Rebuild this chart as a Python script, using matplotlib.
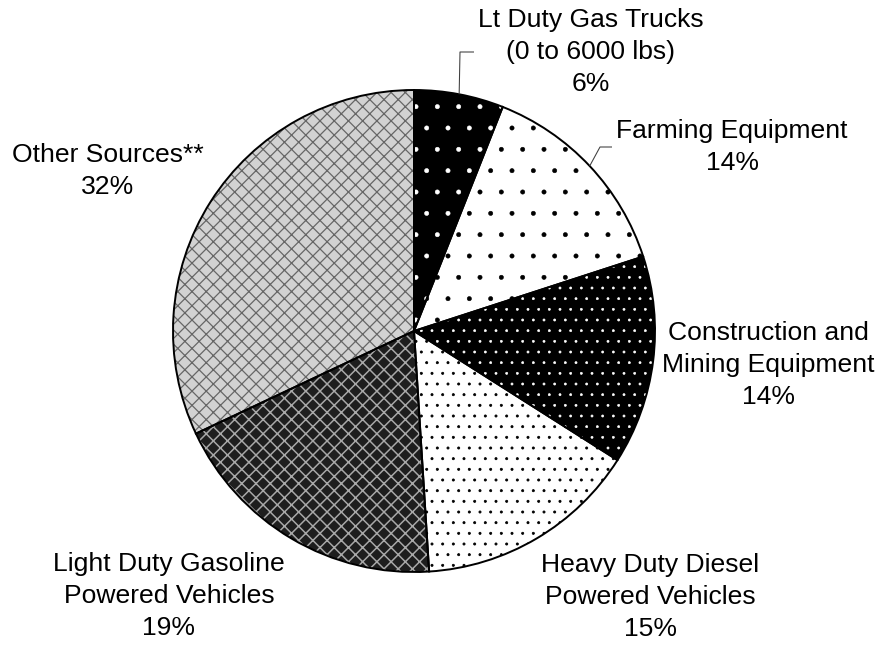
import numpy as np
import matplotlib
matplotlib.use("Agg")
import matplotlib.pyplot as plt

# ---- data ----
categories = [
    "Lt Duty Gas Trucks\n(0 to 6000 lbs)",
    "Farming Equipment",
    "Construction and\nMining Equipment",
    "Heavy Duty Diesel\nPowered Vehicles",
    "Light Duty Gasoline\nPowered Vehicles",
    "Other Sources**",
]
shares = [6, 14, 14, 15, 19, 32]

# ---- styles ----
face_colors = ["black", "white", "black", "white", "#1e1e1e", "#d2d2d2"]
hatch_colors = ["white", "black", "white", "black", "#a8a8a8", "#666666"]
hatches = [".", ".", "..", "..", "xxx", "xxx"]
hatch_lws = [0.3, 0.3, 0.35, 0.45, 0.85, 0.7]
label_pos = [(591, 52), (732, 147), (768, 365), (650, 597), (169, 596), (108, 171)]
leader_idx = {0: [(460, 52), (474, 52)], 1: [(600, 147), (612, 147)]}

W, H = 880, 645
DPI = 128
plt.rcParams["font.family"] = ["Liberation Sans", "DejaVu Sans"]
plt.rcParams["hatch.linewidth"] = 0.5

fig = plt.figure(figsize=(W / DPI, H / DPI), dpi=DPI)
ax = fig.add_axes([0, 0, 1, 1])

cx, cy, R = 414, H - 331, 241

wedges, _ = ax.pie(shares, startangle=90, counterclock=False,
                   center=(cx, cy), radius=R, colors=face_colors,
                   hatch=hatches, wedgeprops=dict(linewidth=0))
for w, hc, hl in zip(wedges, hatch_colors, hatch_lws):
    w.set_edgecolor(hc)
    w.set_linewidth(0)
    if hasattr(w, "set_hatch_linewidth"):
        w.set_hatch_linewidth(hl)

# outlines
ax.pie(shares, startangle=90, counterclock=False, center=(cx, cy), radius=R,
       wedgeprops=dict(fill=False, edgecolor="black", linewidth=1.1))

ax.set_xlim(0, W)
ax.set_ylim(0, H)
ax.set_aspect("equal")
ax.axis("off")

for i, (cat, s, (lx, ly)) in enumerate(zip(categories, shares, label_pos)):
    ax.text(lx, H - ly, f"{cat}\n{s}%", ha="center", va="center",
            multialignment="center", fontsize=14.9, linespacing=1.42,
            color="black")

for i, pts in leader_idx.items():
    w = wedges[i]
    mid = np.deg2rad((w.theta1 + w.theta2) / 2)
    ax_x = cx + R * np.cos(mid)
    ax_y = cy + R * np.sin(mid)
    xs = [ax_x] + [p[0] for p in pts]
    ys = [ax_y] + [H - p[1] for p in pts]
    ax.plot(xs, ys, color="#404040", linewidth=0.6, solid_capstyle="butt")

fig.savefig("out.png", dpi=DPI)
